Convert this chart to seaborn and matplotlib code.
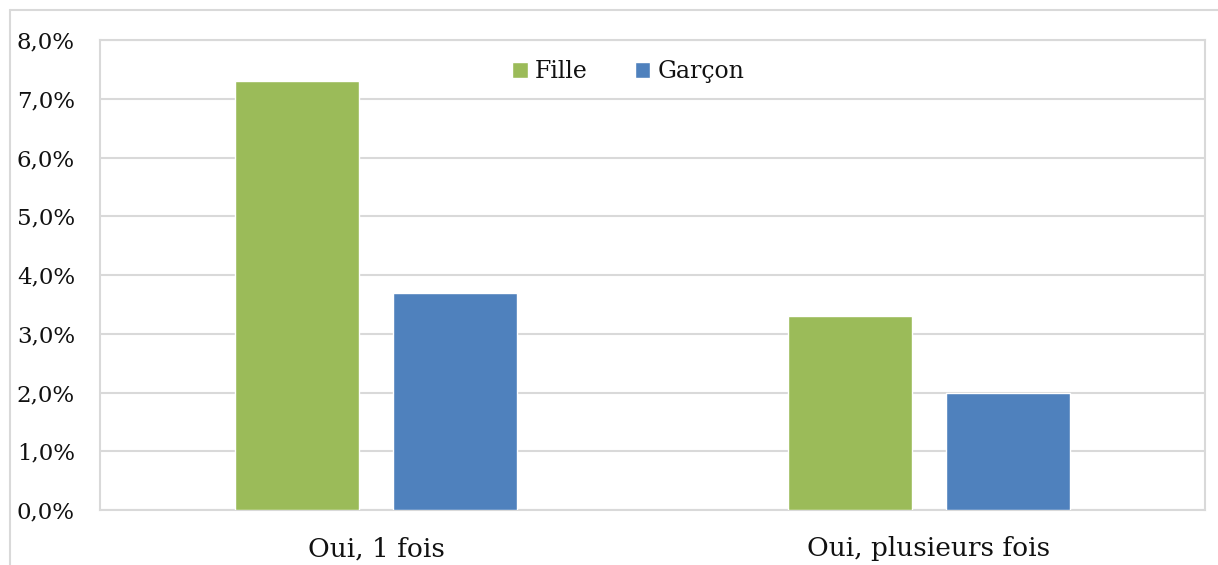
import pandas as pd
import matplotlib.pyplot as plt
import seaborn as sns
from matplotlib.ticker import FuncFormatter, MultipleLocator
from matplotlib.lines import Line2D

categories = ["Oui, 1 fois", "Oui, plusieurs fois"]
fille = [7.3, 3.3]
garcon = [3.7, 2.0]
series = ["Fille", "Garçon"]

df = pd.DataFrame({
    "reponse": categories * 2,
    "sexe": [series[0]] * len(categories) + [series[1]] * len(categories),
    "pct": fille + garcon,
})

sns.set_theme(style="white")
plt.rcParams["font.family"] = ["DejaVu Serif"]

W, H = 1218, 565
fig = plt.figure(figsize=(W / 100, H / 100), dpi=100)
ax = fig.add_axes([100 / W, 55 / H, 1105 / W, 470 / H])

sns.barplot(data=df, x="reponse", y="pct", hue="sexe", ax=ax,
            palette=["#9BBB59", "#4F81BD"], width=0.572, gap=0.215,
            errorbar=None, saturation=1, zorder=3)

ax.set_ylim(0, 8)
ax.yaxis.set_major_locator(MultipleLocator(1))
ax.yaxis.set_major_formatter(FuncFormatter(lambda v, p: f"{v:.1f}%".replace(".", ",")))
ax.grid(axis="y", color="#d9d9d9", linewidth=1.5, zorder=0)
ax.set_axisbelow(True)
for s in ax.spines.values():
    s.set_color("#d9d9d9")
    s.set_linewidth(1.5)
ax.set_xlabel("")
ax.set_ylabel("")
ax.tick_params(axis="y", labelsize=16.5, pad=18, length=0, labelcolor="#111111")
ax.tick_params(axis="x", labelsize=19, pad=19, length=0, labelcolor="#111111")

ax.legend(loc="center", bbox_to_anchor=(0.478, 0.932), ncol=2, frameon=False,
          fontsize=17, handlelength=0.65, handleheight=0.65, handletextpad=0.3,
          columnspacing=2.0, title=None, labelcolor="#111111")

# cadre extérieur
fig.add_artist(Line2D([10 / W, 1], [1 - 10 / H, 1 - 10 / H], color="#d9d9d9", lw=1.5))
fig.add_artist(Line2D([10 / W, 10 / W], [0, 1 - 10 / H], color="#d9d9d9", lw=1.5))

fig.savefig("out.png", dpi=100)
